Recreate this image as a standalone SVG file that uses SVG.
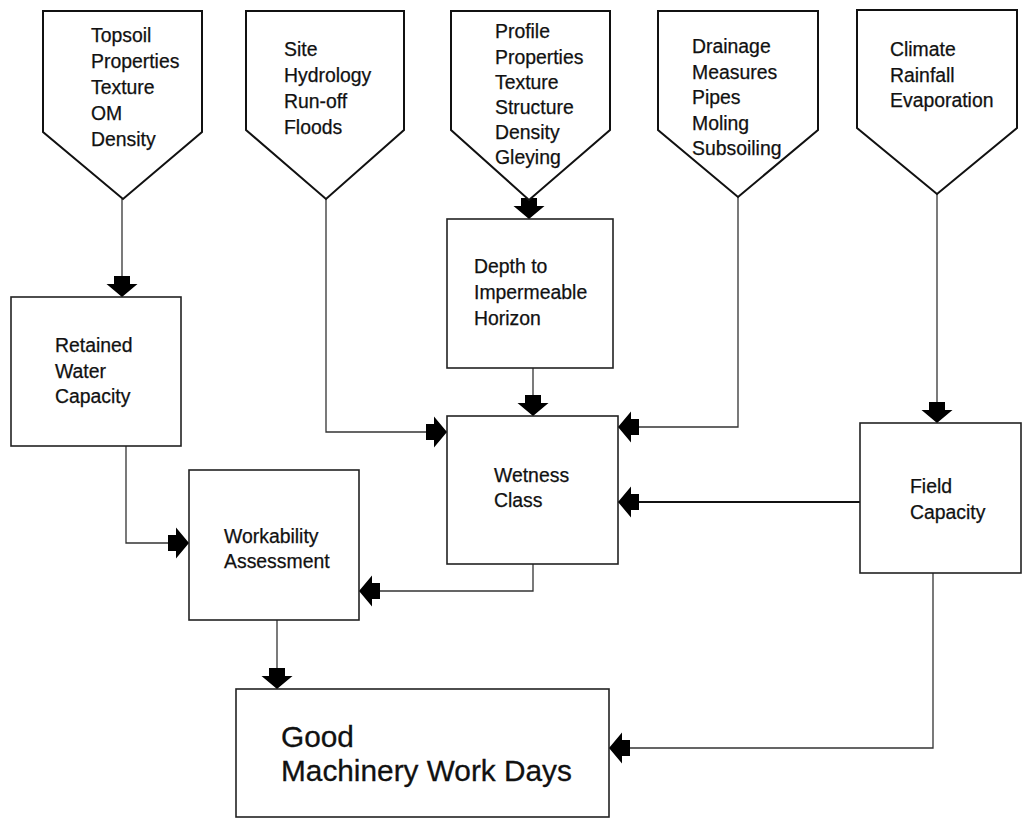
<svg xmlns="http://www.w3.org/2000/svg" width="1023" height="819" viewBox="0 0 1023 819">
<style>
.pent{fill:#fff;stroke:#111;stroke-width:2;stroke-linejoin:miter}
.box{fill:#fff;stroke:#222;stroke-width:1.6}
.t{font-family:"Liberation Sans",Arial,Helvetica,sans-serif;font-size:19.4px;fill:#111;stroke:#111;stroke-width:0.25}
.big{font-size:29.8px;stroke-width:0.3}
.c{fill:none;stroke:#333;stroke-width:1.3}
</style>
<defs>
<marker id="ah" viewBox="-21 -16 22 32" markerWidth="22" markerHeight="32" refX="0" refY="0" orient="auto" markerUnits="userSpaceOnUse">
<path d="M-21,-8 L-13,-8 L-13,-15.5 L0,0 L-13,15.5 L-13,8 L-21,8 Z" fill="#000"/>
</marker>
</defs>
<rect width="1023" height="819" fill="#fff"/>
<g id="connectors">
<path class="c" d="M122,199 V297" marker-end="url(#ah)"/>
<path class="c" d="M326,199 V432 H447" marker-end="url(#ah)"/>
<path class="c" d="M529,200 V219" marker-end="url(#ah)"/>
<path class="c" d="M738,197 V427 H618" marker-end="url(#ah)"/>
<path class="c" d="M937,194 V423" marker-end="url(#ah)"/>
<path class="c" d="M126,446 V543 H189" marker-end="url(#ah)"/>
<path class="c" d="M533,368 V416" marker-end="url(#ah)"/>
<path class="c" style="stroke-width:1.8;stroke:#111" d="M860,502 H618" marker-end="url(#ah)"/>
<path class="c" d="M533,564 V591 H359" marker-end="url(#ah)"/>
<path class="c" d="M277,620 V689" marker-end="url(#ah)"/>
<path class="c" d="M933,573 V748 H609" marker-end="url(#ah)"/>
</g>
<g id="topsoil">
<path class="pent" d="M43,11 H202 V132 L123,199 L43,132 Z"/>
<text class="t" x="91" y="42">Topsoil</text>
<text class="t" x="91" y="68">Properties</text>
<text class="t" x="91" y="94">Texture</text>
<text class="t" x="91" y="120">OM</text>
<text class="t" x="91" y="146">Density</text>
</g>
<g id="site">
<path class="pent" d="M246,11 H404 V130 L326,199 L246,130 Z"/>
<text class="t" x="284" y="56">Site</text>
<text class="t" x="284" y="82">Hydrology</text>
<text class="t" x="284" y="108">Run-off</text>
<text class="t" x="284" y="134">Floods</text>
</g>
<g id="profile">
<path class="pent" d="M451,11 H610 V130 L529,200 L451,130 Z"/>
<text class="t" x="495" y="38">Profile</text>
<text class="t" x="495" y="64">Properties</text>
<text class="t" x="495" y="89">Texture</text>
<text class="t" x="495" y="114">Structure</text>
<text class="t" x="495" y="139">Density</text>
<text class="t" x="495" y="164">Gleying</text>
</g>
<g id="drainage">
<path class="pent" d="M658,11 H818 V130 L738,197 L658,130 Z"/>
<text class="t" x="692" y="53">Drainage</text>
<text class="t" x="692" y="79">Measures</text>
<text class="t" x="692" y="104">Pipes</text>
<text class="t" x="692" y="130">Moling</text>
<text class="t" x="692" y="155">Subsoiling</text>
</g>
<g id="climate">
<path class="pent" d="M857,10 H1017 V128 L937,194 L857,128 Z"/>
<text class="t" x="890" y="56">Climate</text>
<text class="t" x="890" y="82">Rainfall</text>
<text class="t" x="890" y="107">Evaporation</text>
</g>
<g id="retained">
<rect class="box" x="11" y="297" width="170" height="149"/>
<text class="t" x="55" y="352">Retained</text>
<text class="t" x="55" y="378">Water</text>
<text class="t" x="55" y="403">Capacity</text>
</g>
<g id="depth">
<rect class="box" x="447" y="219" width="166" height="149"/>
<text class="t" x="474" y="273">Depth to</text>
<text class="t" x="474" y="299">Impermeable</text>
<text class="t" x="474" y="325">Horizon</text>
</g>
<g id="wetness">
<rect class="box" x="447" y="416" width="171" height="148"/>
<text class="t" x="494" y="482">Wetness</text>
<text class="t" x="494" y="507">Class</text>
</g>
<g id="field">
<rect class="box" x="860" y="423" width="161" height="150"/>
<text class="t" x="910" y="493">Field</text>
<text class="t" x="910" y="519">Capacity</text>
</g>
<g id="workability">
<rect class="box" x="189" y="470" width="170" height="150"/>
<text class="t" x="224" y="543">Workability</text>
<text class="t" x="224" y="568">Assessment</text>
</g>
<g id="good">
<rect class="box" x="236" y="689" width="373" height="128"/>
<text class="t big" x="281" y="747">Good</text>
<text class="t big" x="281" y="781">Machinery Work Days</text>
</g>
</svg>
